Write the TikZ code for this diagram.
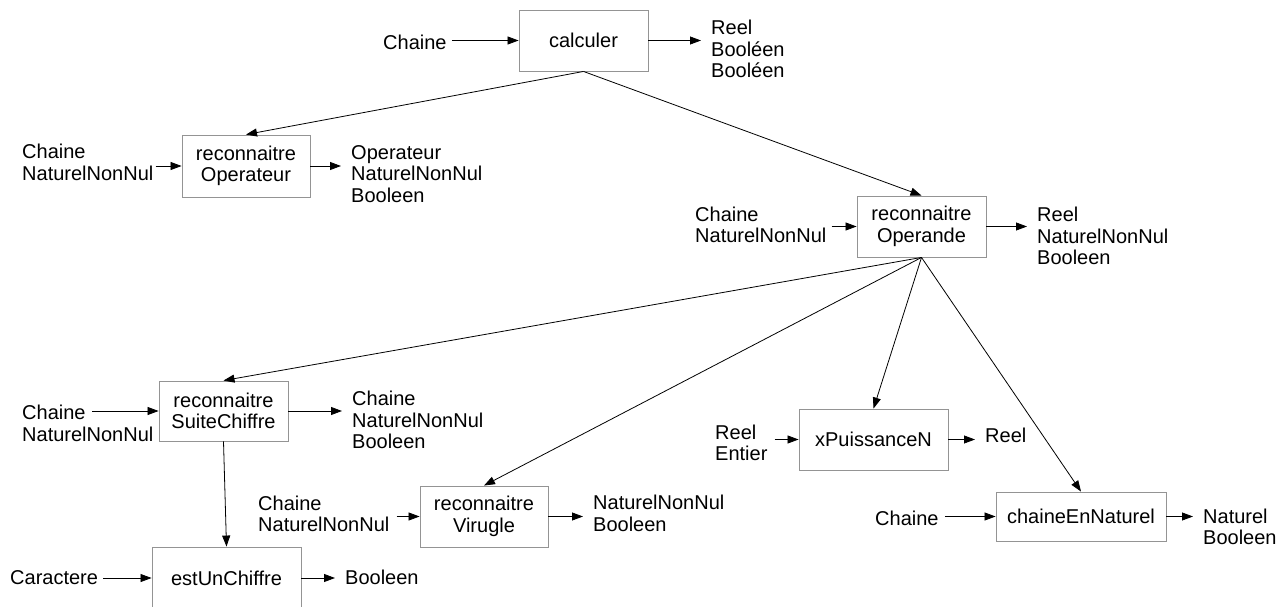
\documentclass[tikz,border=0pt]{standalone}
\usepackage{fontspec}
\setmainfont{Liberation Sans}
\usetikzlibrary{arrows.meta}
\definecolor{boxgray}{gray}{0.58}
\begin{document}
\begin{tikzpicture}[x=1pt,y=-1pt,
  font=\fontsize{20}{21.5}\selectfont,
  func/.style={draw=boxgray, line width=0.9pt, align=center, inner sep=0pt},
  lbl/.style={anchor=west, align=left, inner sep=0pt},
  arr/.style={-{Triangle[length=11pt,width=8pt]}, line width=0.8pt},
  outarr/.style={arr, shorten >=10pt},
]
\useasboundingbox (0,0) rectangle (1287,607);
\clip (0,0) rectangle (1287,607);

% functions
\node[func, minimum width=129pt, minimum height=61pt] (calc) at (583.5,40.5) {calculer};
\node[func, minimum width=128pt, minimum height=62pt] (opr) at (246,166) {reconnaitre\\Operateur};
\node[func, minimum width=129pt, minimum height=61pt] (opd) at (921.5,226.5) {reconnaitre\\Operande};
\node[func, minimum width=129pt, minimum height=60pt] (sc) at (223.5,411) {reconnaitre\\SuiteChiffre};
\node[func, minimum width=149pt, minimum height=62pt] (est) at (226.5,578) {estUnChiffre};
\node[func, minimum width=128pt, minimum height=61pt] (vir) at (484,516.5) {reconnaitre\\Virugle};
\node[func, minimum width=149pt, minimum height=61pt] (xp) at (873.5,439.5) {xPuissanceN};
\node[func, minimum width=170pt, minimum height=49pt] (cn) at (1081,516.5) {chaineEnNaturel};

% parameters
\node[lbl] (icalc) at (383,42) {Chaine};
\node[lbl] (ocalc) at (711,49) {Reel\\Booléen\\Booléen};
\node[lbl] (iopr) at (22,162.5) {Chaine\\NaturelNonNul};
\node[lbl] (oopr) at (351,174) {Operateur\\NaturelNonNul\\Booleen};
\node[lbl] (iopd) at (695,225) {Chaine\\NaturelNonNul};
\node[lbl] (oopd) at (1037,236) {Reel\\NaturelNonNul\\Booleen};
\node[lbl] (isc) at (22,423.5) {Chaine\\NaturelNonNul};
\node[lbl] (osc) at (352,420) {Chaine\\NaturelNonNul\\Booleen};
\node[lbl] (iest) at (10,577.5) {Caractere};
\node[lbl] (oest) at (345,577.5) {Booleen};
\node[lbl] (ivir) at (258,514) {Chaine\\NaturelNonNul};
\node[lbl] (ovir) at (593,513.5) {NaturelNonNul\\Booleen};
\node[lbl] (ixp) at (715,443) {Reel\\Entier};
\node[lbl] (oxp) at (985,435) {Reel};
\node[lbl] (icn) at (875,518) {Chaine};
\node[lbl] (ocn) at (1203,527) {Naturel\\Booleen};
\coordinate (iscend) at (92,411);

% inputs
\draw[arr] ([xshift=5pt]icalc.east |- calc.west) -- (calc.west);
\draw[arr] ([xshift=2pt]iopr.east |- opr.west) -- (opr.west);
\draw[arr] ([xshift=5pt]iopd.east |- opd.west) -- (opd.west);
\draw[arr] (iscend |- sc.west) -- (sc.west);
\draw[arr] ([xshift=5pt]iest.east |- est.west) -- (est.west);
\draw[arr] ([xshift=7pt]ivir.east |- vir.west) -- (vir.west);
\draw[arr] ([xshift=7pt]ixp.east |- xp.west) -- (xp.west);
\draw[arr] ([xshift=6pt]icn.east |- cn.west) -- (cn.west);

% outputs
\draw[outarr] (calc.east) -- (calc.east -| ocalc.west);
\draw[outarr] (opr.east) -- (opr.east -| oopr.west);
\draw[outarr] (opd.east) -- (opd.east -| oopd.west);
\draw[outarr] (sc.east) -- (sc.east -| osc.west);
\draw[outarr] (est.east) -- (est.east -| oest.west);
\draw[outarr] (vir.east) -- (vir.east -| ovir.west);
\draw[outarr] (xp.east) -- (xp.east -| oxp.west);
\draw[outarr] (cn.east) -- (cn.east -| ocn.west);

% calls
\draw[arr] (calc.south) -- (opr.north);
\draw[arr] (calc.south) -- (opd.north);
\draw[arr] (opd.south) -- (sc.north);
\draw[arr] (opd.south) -- (vir.north);
\draw[arr] (opd.south) -- (xp.north);
\draw[arr] (opd.south) -- (cn.north);
\draw[arr] (sc.south) -- (est.north);
\end{tikzpicture}
\end{document}
